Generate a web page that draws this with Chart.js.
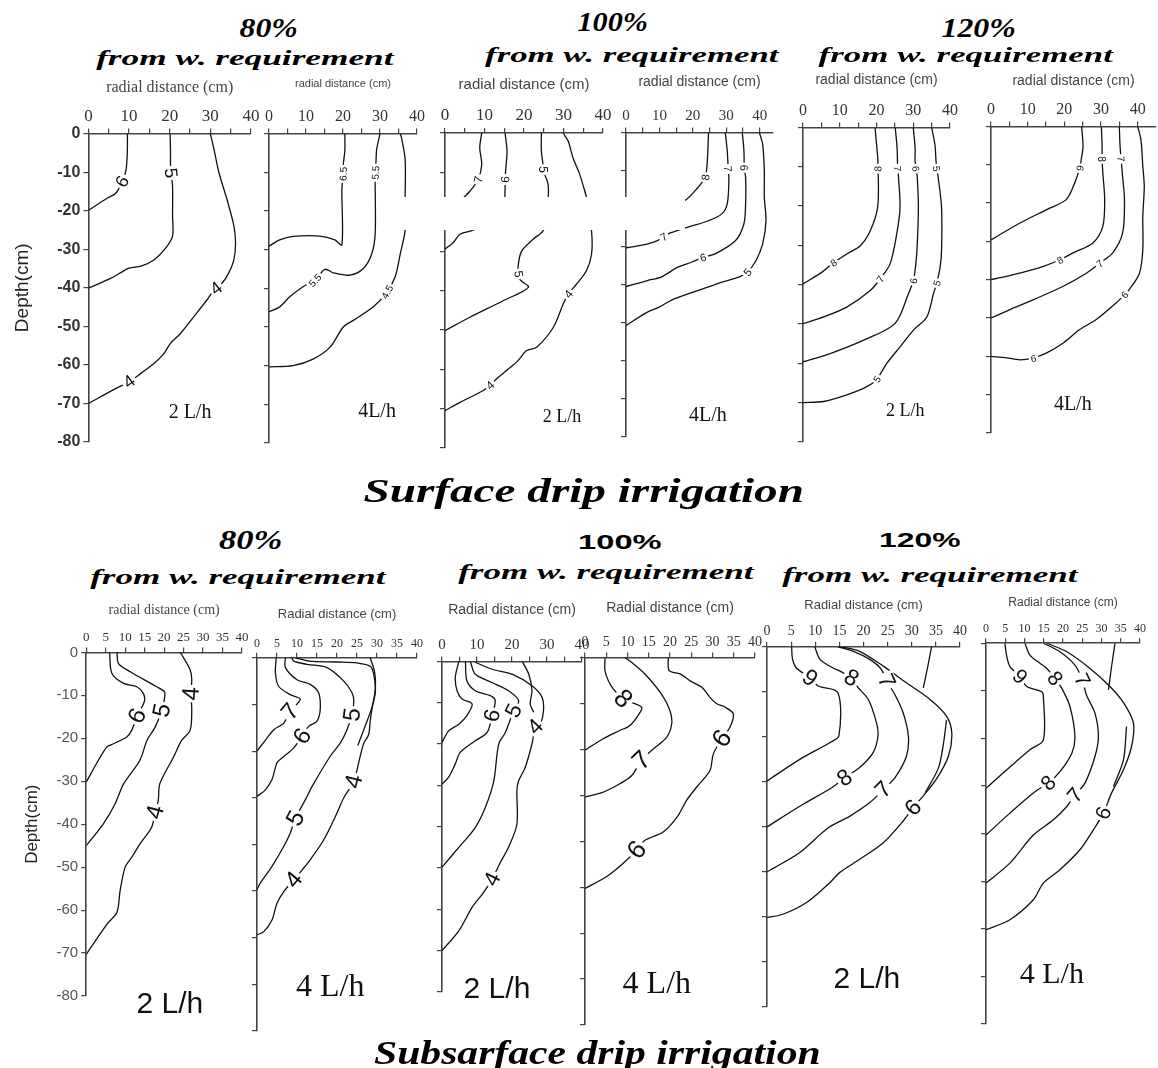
<!DOCTYPE html>
<html>
<head>
<meta charset="utf-8">
<script src="https://cdn.jsdelivr.net/npm/chart.js@4.4.0/dist/chart.umd.min.js"></script>
<style>
  body { margin: 0; background: #fff; }
  #page { position: relative; width: 1158px; height: 1068px; overflow: hidden; background: #fff; }
  #page canvas { position: absolute; }
  .hd { position: absolute; white-space: nowrap; color: #000; z-index: 5; line-height: 1; }
  .it { font-family: "Liberation Serif", "Times New Roman", serif; font-weight: bold; font-style: italic; }
  .bs { font-family: "Liberation Sans", Arial, sans-serif; font-weight: bold; }
  #mask { position: absolute; left: 403px; top: 197px; width: 282px; height: 33px; background: #fff; z-index: 4; }
</style>
</head>
<body>
<div id="page"><div id="mask"></div></div>
<script>
// axis ticks
const xTicks = [0, 5, 10, 15, 20, 25, 30, 35, 40];
const yTicks = [0, -10, -20, -30, -40, -50, -60, -70, -80];

// ---- Surface drip, 80%, 2 L/h ----
const sur80q2Lines = [
  [[9.6,0],[9.6,-3.2],[9.5,-6.7],[9.2,-9.7],[8.4,-12.3],[6.8,-15.4],[4.7,-16.7],[0,-19.9]],
  [[20.1,0],[20.2,-4.9],[20.2,-8.4],[20.3,-10.1],[20.7,-13.6],[20.7,-21.4],[20.7,-26.6],[19,-29.7],[16.2,-32.7],[12.9,-34.4],[10,-34.9],[5.6,-37.5],[0,-40.1]],
  [[30,0],[30.9,-4.1],[32.1,-10.1],[34.1,-17.1],[35.8,-24],[36.2,-28.4],[35.8,-32.7],[34.5,-36.2],[32.9,-38.8],[31.3,-40.1],[29.2,-43.1],[26,-47.4],[22.7,-51.8],[20.2,-54.4],[18.6,-57],[16.2,-59.6],[12.9,-62.2],[10,-64.4],[6.8,-66.1],[0,-70]]
];
const sur80q2Labels = [['6',8.3,-12.4],['5',20.3,-10.2],['4',31.4,-40.1],['4',10,-64.3]];

// ---- Surface drip, 80%, 4 L/h ----
const sur80q4Lines = [
  [[20.5,0],[20.5,-4.3],[20.1,-7.8],[20,-10.4],[19.7,-14.5],[19.7,-28.8],[17.8,-27.5],[13.8,-26.5],[6.5,-26.6],[2.9,-27.5],[0,-29.1]],
  [[30,0],[29.1,-4.1],[28.9,-7.5],[28.7,-10.1],[28.7,-13.6],[28.7,-25.8],[27.8,-31],[25.5,-34.9],[21.9,-36.6],[17.4,-36],[15.1,-35.1],[12.4,-37.9],[9.2,-39.6],[5.6,-42.2],[2.9,-44.8],[0,-46.1]],
  [[35.5,0],[35.9,-1.5],[36.8,-6.7],[36.8,-16.2],[36.8,-24.9],[35.5,-31],[34.1,-37],[31.9,-40.9],[28.2,-44.8],[22.8,-48.3],[20.1,-50],[16.5,-55.2],[11.9,-58.3],[6.5,-60],[0,-60.3]]
];
const sur80q4Labels = [['6.5',20,-10.4],['5.5',28.7,-10.1],['5.5',12.4,-37.9],['4.5',31.9,-40.9]];

// ---- Surface drip, 100%, 2 L/h ----
const sur100q2Lines = [
  [[9.3,0],[8.8,-3.8],[9.3,-8],[8.4,-11.8],[6.3,-14.8],[4.6,-16.5],[2.1,-19],[0,-20.7]],
  [[15.2,0],[15.7,-4.6],[15.4,-8.9],[15.2,-11.8],[15.2,-14.8],[14.7,-19],[10.5,-23.2],[6.3,-24.9],[3.8,-25.7],[2.1,-27.8],[0,-29.5]],
  [[24.4,0],[24.4,-4.6],[24.8,-8],[24.8,-9.3],[26.1,-13.1],[26.1,-17.3],[25.7,-22.4],[24.8,-24.9],[22.3,-27],[19.4,-30],[18.5,-34.2],[18.9,-37.1],[21.1,-39.2],[14.7,-42.6],[6.3,-46.8],[0,-50.2]],
  [[29.9,0],[31.2,-2.1],[32.4,-6.3],[34.1,-10.5],[35.4,-14.8],[35.8,-16.5],[37.1,-24.9],[37.1,-30.8],[35.8,-35],[33.3,-38.4],[31.2,-40.9],[29.9,-43.5],[27.4,-49.4],[23.2,-54.4],[20.6,-55.3],[18.5,-57.8],[15.6,-60.3],[13.1,-62.4],[11.4,-64],[9.7,-65.4],[3.8,-68.4],[0,-70.5]]
];
const sur100q2Labels = [['7',8.4,-11.8],['6',15.2,-11.8],['5',24.8,-9.3],['5',18.7,-35.8],['4',31.2,-40.9],['4',11.4,-64]];

// ---- Surface drip, 100%, 4 L/h ----
const sur100q4Lines = [
  [[24.7,0],[24.5,-4.8],[24.2,-9.2],[23.7,-11.8],[21.6,-14.4],[17.6,-17.9],[13.5,-18.4],[7.4,-18.2],[3,-19.5],[0,-20.5]],
  [[29.7,0],[30.3,-4.8],[30.6,-9.6],[30.8,-12.7],[30.3,-18.8],[28.7,-21.4],[24.7,-23.2],[18.6,-24.9],[12.5,-26.7],[9.4,-28.4],[4.4,-29.7],[0,-30.3]],
  [[34.8,0],[35.3,-4.8],[35.4,-9.3],[35.8,-11.8],[35.8,-18.8],[35.3,-24],[32.8,-28.4],[26.7,-31.9],[23.1,-32.8],[19.6,-34.1],[15.5,-35.4],[10.5,-38],[6.4,-38.9],[0,-40.5]],
  [[39.9,0],[40.9,-3.1],[41.4,-10.1],[41.4,-17],[41.9,-23.2],[40.9,-29.3],[38.9,-33.7],[36.3,-36.7],[33.8,-38],[28.7,-39.3],[24.7,-40.6],[18.6,-42.4],[13.5,-44.1],[9.9,-45.9],[6.4,-47.2],[0,-50.7]]
];
const sur100q4Labels = [['8',23.7,-11.8],['7',30.6,-9.6],['6',35.4,-9.3],['7',11.3,-27.4],['6',23.1,-32.8],['5',36.3,-36.7]];

// ---- Surface drip, 120%, 2 L/h ----
const sur120q2Lines = [
  [[19.6,0],[20.1,-5.2],[20.4,-8.6],[20.3,-10.5],[20.5,-12.8],[20.3,-20.4],[18.3,-26.3],[15.6,-30.1],[11.9,-32.2],[8.3,-34.4],[5.2,-36.8],[0,-39.8]],
  [[25.1,0],[25.6,-5.2],[25.7,-8.6],[25.8,-10.5],[26,-12.8],[26.4,-20.4],[25.5,-27.1],[23.7,-34.7],[21,-38.5],[18.3,-41.5],[11.9,-45.7],[5.6,-48.2],[0,-49.9]],
  [[30,0],[30.5,-5.2],[30.5,-8.6],[30.8,-10.5],[31.1,-12.8],[31.4,-20.4],[31,-31.4],[30.5,-36.4],[30,-39],[28.7,-42.3],[25,-49.9],[16.5,-54.1],[7.4,-57.5],[0,-59.6]],
  [[35,0],[35.9,-4.4],[36.2,-8.6],[36.4,-10.5],[36.8,-12.8],[37.7,-20.4],[37.7,-31.4],[37.3,-35.6],[36.4,-39.5],[35.5,-42.3],[33.7,-48.2],[30,-51.6],[26.4,-55.8],[22.8,-60],[20.1,-64],[17.4,-65.9],[11.9,-68],[5.6,-69.7],[0,-70]]
];
const sur120q2Labels = [['8',20.3,-10.5],['7',25.8,-10.5],['6',30.8,-10.5],['5',36.4,-10.5],['8',8.3,-34.4],['7',21,-38.5],['6',30,-39],['5',36.4,-39.6],['5',20.1,-64]];

// ---- Surface drip, 120%, 4 L/h ----
const sur120q4Lines = [
  [[24.7,0],[25.1,-5.2],[24.6,-8.7],[24.2,-10.9],[22.8,-14.8],[20.5,-19.1],[15.2,-21.7],[7.9,-25.2],[0,-29.6]],
  [[30.1,0],[30.3,-5.2],[30.3,-8.5],[30.5,-12.2],[31,-19.1],[30.5,-26.1],[27.8,-30.4],[22.4,-33],[18.8,-34.8],[14.3,-36.5],[6.1,-38.7],[0,-40]],
  [[35,0],[35.2,-5.2],[35.5,-8.5],[35.8,-12.2],[36.4,-19.1],[35.9,-27.8],[33.2,-33],[29.6,-35.7],[26,-38.3],[19.7,-41.7],[11.6,-45.2],[5.2,-47.8],[0,-50]],
  [[40,0],[40.9,-3.5],[41.4,-10.4],[41.8,-15.7],[41.4,-23.5],[41.4,-32.2],[40.5,-38.3],[37.7,-42.6],[36.4,-43.9],[34.1,-46.1],[28.7,-50.4],[24.2,-53],[19.7,-56.5],[15.2,-59.1],[11.6,-60.4],[7.9,-60.9],[4.3,-60.4],[0,-60]]
];
const sur120q4Labels = [['9',24.2,-10.9],['8',30.3,-8.5],['7',35.5,-8.5],['8',18.8,-34.8],['7',29.6,-35.7],['6',36.4,-43.9],['6',11.6,-60.5]];

// ---- Subsurface drip, 80%, 2 L/h ----
const sub80q2Lines = [
  [[6,0],[6.6,-4.9],[9.6,-7.2],[13,-8],[14.7,-9.6],[14.9,-11.5],[13.1,-14.8],[11.7,-18.1],[10.4,-19.7],[6.2,-21.6],[5.3,-22],[3.2,-25],[0,-30.2]],
  [[7.9,0],[8.3,-2.6],[11.3,-4.5],[18.1,-8],[20.1,-9.2],[20.1,-10.7],[19.4,-13.5],[17.7,-17.4],[15.6,-20.5],[13.8,-25.1],[9.6,-30.6],[7.4,-35.3],[4.4,-39.9],[0,-45]],
  [[24.1,0],[24.5,-0.5],[26.7,-4.1],[27.1,-6.3],[26.9,-9.6],[27.1,-13.1],[26.7,-18.1],[24.5,-20.5],[22.4,-24.4],[18.9,-30.6],[18.5,-34.5],[17.7,-37.2],[16.8,-40.7],[13.8,-44.6],[11.7,-47.7],[10,-50],[8.7,-55.5],[7.9,-60.5],[5.3,-63.3],[0,-70.3]]
];
const sub80q2Labels = [['6',13.1,-14.8],['5',19.4,-13.5],['4',26.9,-9.6],['4',17.7,-37.2]];

// ---- Subsurface drip, 80%, 4 L/h ----
const sub80q4Lines = [
  [[4.8,0],[4.6,-3.2],[5.4,-6.1],[8.3,-7.9],[10.8,-8.9],[8.3,-11.5],[6.7,-14],[4.2,-15.4],[2.5,-17.2],[0,-20]],
  [[7.1,0],[7.1,-2.1],[10,-4.7],[13.3,-5.7],[15.4,-7.5],[15.8,-11.1],[15,-13.6],[12.9,-14.7],[11.3,-16.8],[9.2,-19.3],[6.25,-21.5],[5,-22.5],[3.75,-26.1],[2.1,-28.3],[0,-29.7]],
  [[8.75,0],[9.2,-0.7],[12.5,-1.4],[17.5,-2.1],[21.7,-5],[23.75,-7.5],[24.2,-9.3],[23.75,-12.2],[22.5,-15.4],[20.8,-18.3],[18.3,-21.1],[13.75,-27.6],[12.1,-30.4],[9.6,-34.4],[8.3,-37.6],[6.7,-40.4],[3.75,-44.7],[0.8,-48.3],[0,-49.7]],
  [[9.6,0],[13,-0.7],[20,-0.9],[25,-1.1],[28.3,-1.8],[29.2,-3.6],[29.6,-7.2],[28.8,-10.7],[28.3,-13.6],[27.9,-16.5],[26.7,-18.3],[25.8,-21.1],[24.2,-26.5],[21.7,-30],[19.6,-34],[16.7,-39],[13.3,-43.3],[11.25,-45.5],[9.2,-47.6],[6.7,-50.1],[5,-52.6],[3.75,-56.2],[1.7,-58.7],[0,-59.4]],
  [[28.3,0],[29.4,-3],[29.6,-6.5],[28.8,-10.4],[26.7,-15.4],[25.2,-18.8]]
];
const sub80q4Labels = [['7',8.3,-11.5],['6',11.3,-16.8],['5',23.75,-12.2],['5',9.6,-34.4],['4',24.2,-26.5],['4',9.2,-47.6]];

// ---- Subsurface drip, 100%, 2 L/h ----
const sub100q2Lines = [
  [[4.8,0],[3.8,-3.9],[4.3,-7.1],[5.7,-9.1],[8.6,-10.3],[7.1,-13.1],[4.8,-15.2],[1.9,-16.8],[0,-19.6]],
  [[6.7,0],[7.1,-4.7],[9.5,-7.1],[13.8,-8.3],[15.2,-9.5],[14.3,-13.1],[12.9,-17.2],[9.5,-19.2],[5.2,-22],[3.8,-24.8],[1.9,-28],[0,-29.7]],
  [[8.1,0],[9.5,-3.1],[14.3,-5.1],[19,-7.1],[21.9,-9.5],[20.5,-11.9],[18.1,-17.2],[16.2,-20],[14.8,-28.9],[12.4,-35.3],[9.5,-40.2],[4.8,-45],[0,-49.8]],
  [[9.5,-0.2],[14.3,-1.9],[20,-3.1],[25.7,-5.9],[28.6,-8.7],[29,-11.9],[28.1,-15.2],[26.6,-16.5],[25.7,-20],[23.8,-25.6],[21.9,-28.9],[21.4,-31.3],[21.4,-39.4],[19,-45],[16.7,-48.6],[14.3,-52.7],[11.9,-55.9],[8.6,-59.5],[4.8,-65.2],[0,-70]],
  [[22.9,0],[24.8,-3.1],[25.7,-7.1],[25.2,-10.3],[26.2,-12.3]]
];
const sub100q2Labels = [['6',14.3,-13.1],['5',20.5,-11.9],['4',26.6,-15.8],['4',14.3,-52.7]];

// ---- Subsurface drip, 100%, 4 L/h ----
const sub100q4Lines = [
  [[4.7,0],[4.7,-2.9],[5.5,-5.1],[6.7,-6.9],[9,-9],[13.3,-10.8],[13,-11.9],[10.6,-14.8],[8.2,-15.9],[4.3,-17.7],[0,-20.2]],
  [[9.4,0],[11,-1.1],[14.1,-3.6],[18,-8],[20,-11.6],[20.4,-14.5],[19.2,-17.4],[16.1,-19.9],[13.3,-22.4],[11,-25.7],[8.2,-27.5],[4.3,-29.3],[0,-30.4]],
  [[19.6,0],[19.8,-2.9],[22.4,-3.6],[24.7,-5.1],[27.5,-6.5],[29.4,-8.7],[31,-10.1],[32.9,-10.8],[34.9,-12.3],[34.1,-15.2],[32.2,-17.7],[30.2,-21],[29.4,-24.6],[26.3,-28.2],[23.9,-31.1],[21.7,-34.7],[18.4,-38],[14.1,-39.8],[12.2,-41.9],[9,-44.8],[5.1,-47.7],[0,-50.3]]
];
const sub100q4Labels = [['8',9,-9],['7',13.3,-22.4],['6',32.2,-17.7],['6',12.2,-41.9]];

// ---- Subsurface drip, 120%, 2 L/h ----
const sub120q2Lines = [
  [[5.1,0],[5.3,-2.8],[6.1,-4.7],[8.9,-6.9],[10.6,-8.7],[14.7,-10.2],[14.9,-19.8],[13,-21.3],[6.8,-25],[0,-29.8]],
  [[9.9,0],[11,-2.8],[13.7,-4.7],[15.1,-5.4],[17.5,-6.9],[18.9,-9.1],[21,-11.7],[22.7,-16.9],[23,-19.8],[22,-23.5],[19.2,-26.8],[16.1,-29.1],[13.4,-31.3],[6.8,-35.4],[0,-40]],
  [[14.7,0],[17.9,-1],[21.3,-2.8],[23.7,-5],[24.8,-7.6],[26.5,-10.6],[28.2,-14.6],[29.3,-19.8],[28.9,-24.3],[26.5,-29.1],[24.1,-31.7],[21.3,-34.6],[17.2,-37.6],[12.7,-40.2],[6.8,-45.7],[0,-50]],
  [[15.1,0],[19.2,-1],[24.1,-4.3],[28.9,-8],[33.8,-11.7],[37.2,-15.4],[38.3,-19.1],[37.6,-24.3],[35.1,-29.4],[32.4,-33.1],[30.3,-35.7],[27.9,-39.1],[24.1,-43.5],[19.2,-47.2],[15.1,-50.1],[13,-52.4],[8.2,-56.8],[3.3,-59.4],[0,-60.1]],
  [[34.1,0],[33.3,-4.5],[32.4,-9.1]],
  [[37.2,-16.3],[36.5,-22],[35.5,-27],[32.8,-32.4]]
];
const sub120q2Labels = [['9',8.9,-6.9],['8',17.5,-6.9],['7',24.8,-7.6],['8',16.1,-29.1],['7',24.1,-31.7],['6',30.3,-35.7]];

// ---- Subsurface drip, 120%, 4 L/h ----
const sub120q4Lines = [
  [[4.9,0],[5.4,-2.8],[6.2,-4.9],[8.8,-7],[10.6,-9.1],[14.5,-10.2],[14.9,-11.2],[14.9,-20.3],[11.4,-22.4],[5.4,-26.6],[0,-30.5]],
  [[10.1,0],[11.4,-2.5],[14,-4.2],[15.8,-5.3],[17.9,-7.4],[19.7,-9.5],[21.8,-13.3],[23.1,-19.6],[22.3,-23.1],[19.2,-27],[16.2,-29.4],[12.7,-31.2],[6.2,-35.7],[0,-40.3]],
  [[14.9,0],[19.2,-1.8],[23.1,-4.6],[25,-7.7],[26.1,-10.9],[28.3,-14.7],[29.2,-19.6],[28.3,-23.8],[25.7,-29.4],[23.1,-31.9],[21,-34.3],[17.5,-37.1],[12.3,-40.3],[6.2,-46.2],[0,-50.4]],
  [[15.8,0],[21,-1.8],[27,-5.3],[32.2,-9.1],[35.8,-12.6],[38.3,-16.8],[37.8,-21.7],[35.7,-26.6],[32.6,-31.5],[30.5,-35.7],[27.9,-39.2],[24.4,-43.4],[19.2,-47.6],[14.9,-50.4],[12.3,-53.9],[6.2,-58.1],[0,-60.2]],
  [[33.5,0],[32.6,-5],[31.8,-9.8]],
  [[36.5,-17.5],[35.7,-24.5],[33.1,-30.1]]
];
const sub120q4Labels = [['9',8.8,-7],['8',17.9,-7.4],['7',25,-7.7],['8',16.2,-29.4],['7',23.1,-31.9],['6',30.5,-35.7]];

const SERIF = '"Liberation Serif", "Times New Roman", serif';
const SANS = '"Liberation Sans", Arial, sans-serif';

// placement of each panel on the page (pixels) and its text styles
const panels = [
  { lines: sur80q2Lines, labels: sur80q2Labels, note: '2 L/h', noteAt: [25, -72.5], noteFont: 20, noteFam: SERIF,
    x0: 88, x40: 251, xMax: 40, top: 134, bottom: 442, titleY: 88, title: 'radial distance (cm)', titleSize: 16, titleFam: SERIF,
    xFont: 17, xStep: 10, labelSize: 18, yLabels: true, yTitleX: 22, yTitleSize: 19, yTickBold: true },
  { lines: sur80q4Lines, labels: sur80q4Labels, note: '4L/h', noteAt: [29.2, -72], noteFont: 20, noteFam: SERIF,
    x0: 269, x40: 417, xMax: 40, top: 134, bottom: 443, titleY: 84, title: 'radial distance (cm)', titleSize: 11, titleFam: SANS,
    xFont: 16, xStep: 10, labelSize: 10 },
  { lines: sur100q2Lines, labels: sur100q2Labels, note: '2 L/h', noteAt: [29.6, -72.3], noteFont: 18, noteFam: SERIF,
    x0: 445, x40: 603, xMax: 40, top: 133, bottom: 448, titleY: 85, title: 'radial distance (cm)', titleSize: 15, titleFam: SANS,
    xFont: 17, xStep: 10, labelSize: 12 },
  { lines: sur100q4Lines, labels: sur100q4Labels, note: '4L/h', noteAt: [24.5, -74.3], noteFont: 20, noteFam: SERIF,
    x0: 626, x40: 760, xMax: 44, top: 132, bottom: 437, titleY: 82, title: 'radial distance (cm)', titleSize: 14, titleFam: SANS,
    xFont: 15, xStep: 10, labelSize: 11 },
  { lines: sur120q2Lines, labels: sur120q2Labels, note: '2 L/h', noteAt: [27.8, -72.3], noteFont: 18, noteFam: SERIF,
    x0: 803, x40: 950, xMax: 40, top: 127, bottom: 442, titleY: 80, title: 'radial distance (cm)', titleSize: 14, titleFam: SANS,
    xFont: 16, xStep: 10, labelSize: 10 },
  { lines: sur120q4Lines, labels: sur120q4Labels, note: '4L/h', noteAt: [22.3, -72.7], noteFont: 20, noteFam: SERIF,
    x0: 991, x40: 1138, xMax: 45, top: 126, bottom: 433, titleY: 81, title: 'radial distance (cm)', titleSize: 14, titleFam: SANS,
    xFont: 16, xStep: 10, labelSize: 10 },
  { lines: sub80q2Lines, labels: sub80q2Labels, note: '2 L/h', noteAt: [21.5, -82], noteFont: 30, noteFam: SANS,
    x0: 86, x40: 242, xMax: 40, top: 652, bottom: 996, titleY: 610, title: 'radial distance (cm)', titleSize: 14, titleFam: SERIF,
    xFont: 13, xStep: 5, labelSize: 24, yLabels: true, yTitleX: 32, yTitleSize: 17 },
  { lines: sub80q4Lines, labels: sub80q4Labels, note: '4 L/h', noteAt: [18.3, -70.8], noteFont: 32, noteFam: SERIF,
    x0: 257, x40: 417, xMax: 40, top: 658, bottom: 1031, titleY: 615, title: 'Radial distance (cm)', titleSize: 13, titleFam: SANS,
    xFont: 12, xStep: 5, labelSize: 24 },
  { lines: sub100q2Lines, labels: sub100q2Labels, note: '2 L/h', noteAt: [15.7, -79.5], noteFont: 30, noteFam: SANS,
    x0: 442, x40: 582, xMax: 40, top: 661, bottom: 992, titleY: 610, title: 'Radial distance (cm)', titleSize: 14, titleFam: SANS,
    xFont: 15, xStep: 10, labelSize: 22 },
  { lines: sub100q4Lines, labels: sub100q4Labels, note: '4 L/h', noteAt: [16.9, -71.3], noteFont: 32, noteFam: SERIF,
    x0: 585, x40: 755, xMax: 40, top: 657, bottom: 1025, titleY: 608, title: 'Radial distance (cm)', titleSize: 14, titleFam: SANS,
    xFont: 14, xStep: 5, labelSize: 26 },
  { lines: sub120q2Lines, labels: sub120q2Labels, note: '2 L/h', noteAt: [20.7, -74], noteFont: 30, noteFam: SANS,
    x0: 767, x40: 960, xMax: 40, top: 647, bottom: 1007, titleY: 606, title: 'Radial distance (cm)', titleSize: 13, titleFam: SANS,
    xFont: 14, xStep: 5, labelSize: 23 },
  { lines: sub120q4Lines, labels: sub120q4Labels, note: '4 L/h', noteAt: [17.1, -69.7], noteFont: 30, noteFam: SERIF,
    x0: 986, x40: 1140, xMax: 40, top: 643, bottom: 1024, titleY: 602, title: 'Radial distance (cm)', titleSize: 12, titleFam: SANS,
    xFont: 12, xStep: 5, labelSize: 21 }
];

const headings = [
  ['80%', 'it', 28, 268, 28, 58],
  ['from w. requirement', 'it', 22, 245, 58, 298],
  ['100%', 'it', 28, 612, 22, 70],
  ['from w. requirement', 'it', 22, 632, 55, 294],
  ['120%', 'it', 28, 978, 28, 74],
  ['from w. requirement', 'it', 22, 966, 55, 295],
  ['Surface drip irrigation', 'it', 34, 583, 491, 440],
  ['80%', 'it', 28, 250, 540, 63],
  ['from w. requirement', 'it', 22, 238, 577, 296],
  ['100%', 'bs', 21, 620, 541, 84],
  ['from w. requirement', 'it', 22, 606, 572, 296],
  ['120%', 'bs', 21, 920, 539, 82],
  ['from w. requirement', 'it', 22, 930, 575, 296],
  ['Subsarface drip irrigation', 'it', 34, 597, 1053, 447]
];

const PAD_L = 10, PAD_R = 12, PAD_T = 2, PAD_B = 45;
const page = document.getElementById('page');

function segDist(px, py, ax, ay, bx, by) {
  const dx = bx - ax, dy = by - ay;
  const len = dx * dx + dy * dy || 1;
  let t = ((px - ax) * dx + (py - ay) * dy) / len;
  t = Math.max(0, Math.min(1, t));
  return Math.hypot(px - (ax + t * dx), py - (ay + t * dy));
}

// contour labels (rotated along the nearest line) and the flow-rate note
const contourText = (p) => ({
  id: 'contourText',
  afterDatasetsDraw(chart) {
    const { ctx, scales: { x, y } } = chart;
    const toPx = ([a, b]) => [x.getPixelForValue(a), y.getPixelForValue(b)];
    ctx.save();
    ctx.font = p.labelSize + 'px ' + SANS;
    ctx.textAlign = 'center';
    ctx.textBaseline = 'middle';
    p.labels.forEach(([txt, lx, ly]) => {
      const [px, py] = toPx([lx, ly]);
      let best = Infinity, ang = 0;
      p.lines.forEach(line => {
        for (let i = 1; i < line.length; i++) {
          const [ax, ay] = toPx(line[i - 1]);
          const [bx, by] = toPx(line[i]);
          const d = segDist(px, py, ax, ay, bx, by);
          if (d < best) { best = d; ang = Math.atan2(by - ay, bx - ax); }
        }
      });
      if (ang > Math.PI / 2) ang -= Math.PI;
      if (ang <= -Math.PI / 2) ang += Math.PI;
      const w = ctx.measureText(txt).width;
      ctx.save();
      ctx.translate(px, py);
      ctx.rotate(ang);
      ctx.fillStyle = '#fff';
      ctx.fillRect(-w / 2 - 2, -p.labelSize * 0.42, w + 4, p.labelSize * 0.84);
      ctx.fillStyle = '#111';
      ctx.fillText(txt, 0, 1);
      ctx.restore();
    });
    ctx.font = p.noteFont + 'px ' + p.noteFam;
    ctx.fillStyle = '#111';
    const [nx, ny] = toPx(p.noteAt);
    ctx.fillText(p.note, nx, ny);
    ctx.restore();
  }
});

panels.forEach(p => {
  const yW = p.yLabels ? p.x0 - p.yTitleX + p.yTitleSize * 0.6 : 6;
  const xH = p.top - p.titleY + p.titleSize * 0.6;
  const chartW = (p.x40 - p.x0) * p.xMax / 40;
  const w = Math.round(PAD_L + yW + chartW + PAD_R);
  const h = Math.round(PAD_T + xH + (p.bottom - p.top) + PAD_B);

  const canvas = document.createElement('canvas');
  canvas.width = w; canvas.height = h;
  canvas.style.width = w + 'px'; canvas.style.height = h + 'px';
  canvas.style.left = (p.x0 - yW - PAD_L) + 'px';
  canvas.style.top = (p.top - xH - PAD_T) + 'px';
  page.appendChild(canvas);

  new Chart(canvas, {
    type: 'scatter',
    data: {
      datasets: p.lines.map(line => ({
        data: line.map(([x, y]) => ({ x, y })),
        showLine: true,
        borderColor: '#111',
        borderWidth: 1.3,
        pointRadius: 0,
        tension: 0.3
      }))
    },
    options: {
      responsive: false,
      animation: false,
      devicePixelRatio: 1,
      layout: { padding: { left: PAD_L, right: PAD_R, top: PAD_T, bottom: PAD_B } },
      plugins: { legend: { display: false }, tooltip: { enabled: false } },
      scales: {
        x: {
          type: 'linear', position: 'top', min: 0, max: p.xMax,
          afterBuildTicks: s => { s.ticks = xTicks.map(v => ({ value: v })); },
          afterFit: s => { s.height = xH; },
          ticks: {
            autoSkip: false, maxRotation: 0, padding: 2, color: '#333',
            font: { family: SERIF, size: p.xFont },
            callback: v => (v % p.xStep === 0 ? String(v) : '')
          },
          grid: { drawOnChartArea: false, drawTicks: true, tickLength: 5, color: '#444', lineWidth: 1.2 },
          border: { display: true, color: '#444', width: 1.6 },
          title: { display: true, text: p.title, color: '#444', padding: 0,
                   font: { family: p.titleFam, size: p.titleSize } }
        },
        y: {
          type: 'linear', min: -80, max: 0,
          afterBuildTicks: s => { s.ticks = yTicks.map(v => ({ value: v })); },
          afterFit: s => { s.width = yW; },
          ticks: {
            display: !!p.yLabels, padding: 3, color: p.yTickBold ? '#333' : '#555',
            font: { family: SANS, size: p.yTickBold ? 16 : 15, weight: p.yTickBold ? 'bold' : 'normal' }
          },
          grid: { drawOnChartArea: false, drawTicks: true, tickLength: 5, color: '#444', lineWidth: 1.2 },
          border: { display: true, color: '#444', width: 1.6 },
          title: { display: !!p.yLabels, text: 'Depth(cm)', color: '#222', padding: 0,
                   font: { family: SANS, size: p.yTitleSize || 17 } }
        }
      }
    },
    plugins: [contourText(p)]
  });
});

// headings, stretched to the widths seen in the figure
headings.forEach(([text, cls, size, cx, cy, width]) => {
  const el = document.createElement('div');
  el.className = 'hd ' + cls;
  el.textContent = text;
  el.style.fontSize = size + 'px';
  page.appendChild(el);
  const k = width / el.offsetWidth;
  el.style.left = (cx - el.offsetWidth / 2) + 'px';
  el.style.top = (cy - el.offsetHeight / 2) + 'px';
  el.style.transform = 'scaleX(' + k.toFixed(3) + ')';
});
</script>
</body>
</html>
